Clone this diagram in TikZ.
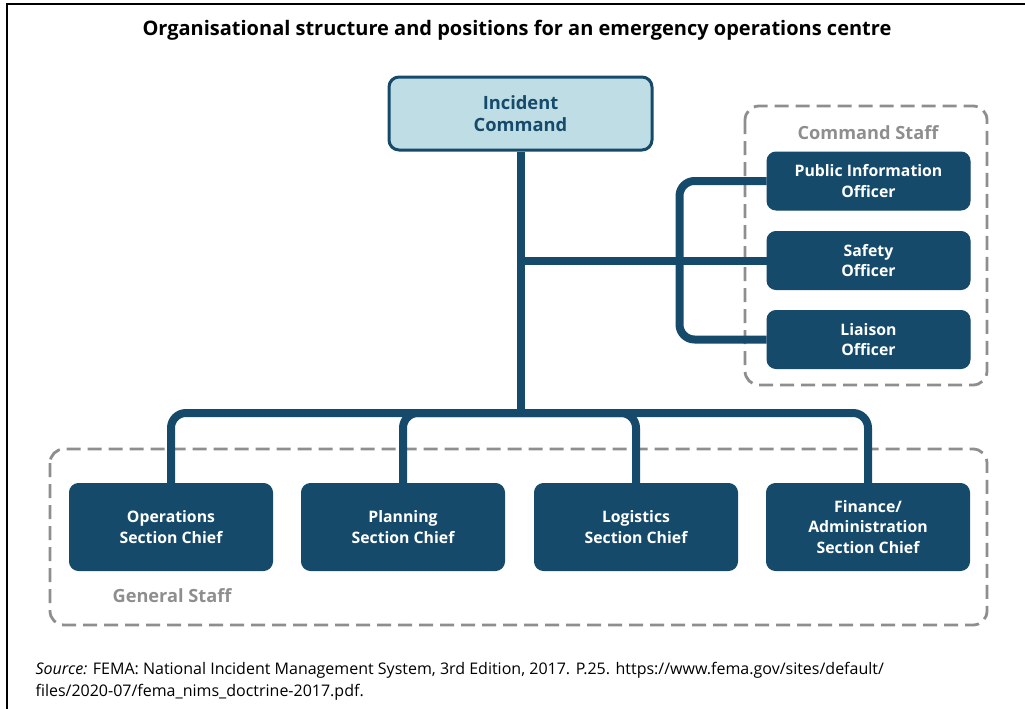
\documentclass[tikz,border=0pt]{standalone}
\usepackage{fontspec}
\setmainfont{Open Sans}
\definecolor{nimsblue}{HTML}{154A6B}
\definecolor{nimslight}{HTML}{BFDDE4}
\definecolor{staffgrey}{HTML}{8E8E8E}
\begin{document}
\begin{tikzpicture}[x=1pt,y=-1pt,
  post/.style={draw=nimsblue,line width=1pt,rounded corners=9pt,fill=nimsblue,text=white,
    font=\bfseries\fontsize{15.8}{20.5}\selectfont,align=center,minimum width=203pt,inner sep=0pt},
  cmdpost/.style={post,minimum height=58pt},
  genpost/.style={post,minimum height=87pt},
  link/.style={draw=nimsblue,line width=8pt,rounded corners=15pt},
  staff/.style={draw=staffgrey,line width=2.8pt,dash pattern=on 14pt off 7pt,rounded corners=14pt},
  stafflabel/.style={text=staffgrey,font=\bfseries\fontsize{18.2}{20}\selectfont}]
\useasboundingbox (0,0) rectangle (1025,709);
\draw[line width=1.1pt] (7,720) -- (7,4) -- (1040,4);

\node[font=\bfseries\fontsize{20}{22}\selectfont] (title) at (517,30) {Organisational structure and positions for an emergency operations centre};

\draw[staff] (745,106) rectangle (987,385);
\draw[staff] (50,449) rectangle (987,625);
\node[stafflabel] (cmdlabel) at (868,133) {Command Staff};
\node[stafflabel] (genlabel) at (172,596) {General Staff};

\node[draw=nimsblue,line width=3pt,rounded corners=10pt,fill=nimslight,text=nimsblue,
  font=\bfseries\fontsize{18.3}{21.5}\selectfont,align=center,minimum width=263pt,minimum height=73pt] (ic) at (520.5,113.5) {Incident\\Command};

\node[cmdpost] (pio) at (868.5,181) {Public Information\\Officer};
\node[cmdpost] (so) at (868.5,260.5) {Safety\\Officer};
\node[cmdpost] (lo) at (868.5,339.5) {Liaison\\Officer};

\node[genpost] (ops) at (171,527) {Operations\\Section Chief};
\node[genpost] (plan) at (403,527) {Planning\\Section Chief};
\node[genpost] (log) at (636,527) {Logistics\\Section Chief};
\node[genpost] (fin) at (868,527) {Finance/\\Administration\\Section Chief};

\coordinate (bus) at (520.5,413);
\draw[link] (ic.south) -- ([yshift=-4pt]bus);
\draw[link] (ic.south |- so.west) -- (so.west);
\draw[link] (pio.west) -- ++(-87,0) |- (lo.west);
\foreach \n in {ops,plan,log,fin}
    \draw[link] (bus) -| (\n.north);

\node[anchor=base west,align=left,font=\fontsize{16}{21.5}\selectfont] (source) at (32,696) {\textit{Source:} FEMA: National Incident Management System, 3rd Edition, 2017. P.25. https://www.fema.gov/sites/default/\\files/2020-07/fema\_nims\_doctrine-2017.pdf.};

\end{tikzpicture}
\end{document}
